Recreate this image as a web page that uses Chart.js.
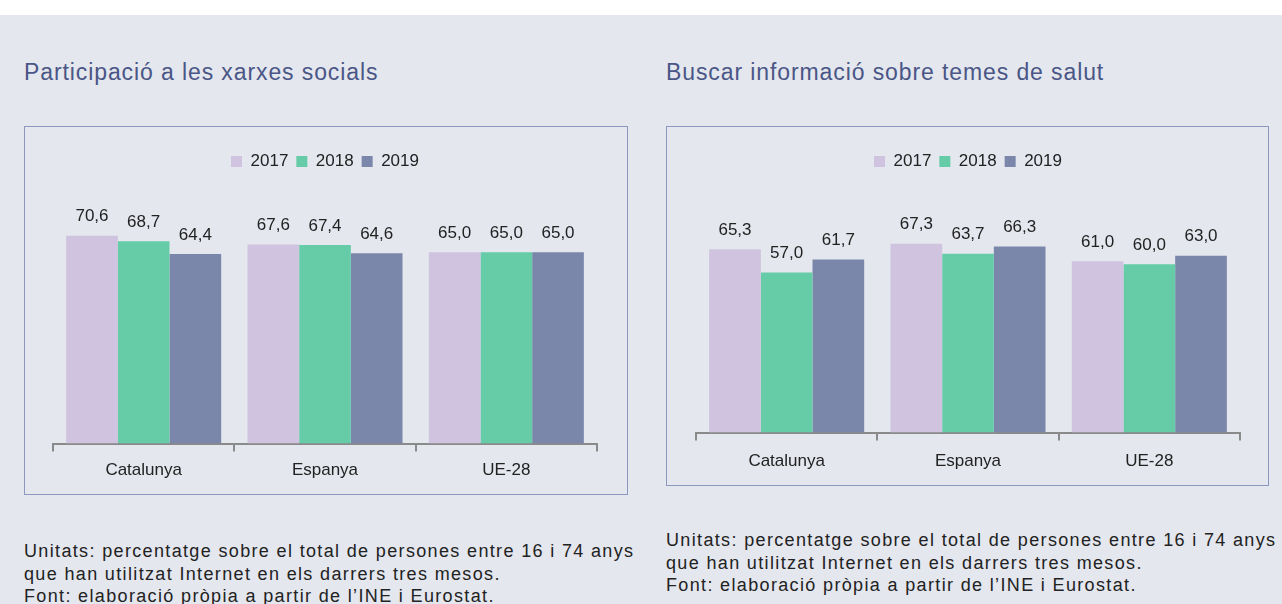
<!DOCTYPE html>
<html>
<head>
<meta charset="utf-8">
<script src="https://cdn.jsdelivr.net/npm/chart.js@4.4.1/dist/chart.umd.min.js"></script>
<style>
  html, body { margin: 0; padding: 0; }
  body { width: 1282px; height: 604px; background: #e4e7ee; position: relative; overflow: hidden; font-family: "Liberation Sans", Arial, sans-serif; }
  .band { position: absolute; left: 0; top: 0; width: 1282px; height: 15px; background: #fff; }
  .title { position: absolute; font-size: 23px; line-height: 26px; letter-spacing: 0.9px; color: #4a5686; white-space: nowrap; }
  .box { position: absolute; border: 1.5px solid #8c98be; box-sizing: border-box; }
  .box canvas { position: absolute; left: 0; top: 0; }
  .note { position: absolute; font-size: 18px; letter-spacing: 1.35px; line-height: 22.5px; color: #222; white-space: nowrap; }
</style>
</head>
<body>
<div class="band"></div>
<div class="title" style="left:24px; top:59px;">Participació a les xarxes socials</div>
<div class="title" style="left:666px; top:59px;">Buscar informació sobre temes de salut</div>

<div class="box" style="left:24px; top:126px; width:604px; height:369px;">
  <div style="position:absolute; left:0; top:0; width:601px; height:366px;"><canvas id="chartXarxes"></canvas></div>
</div>
<div class="box" style="left:666px; top:126px; width:603px; height:360px;">
  <div style="position:absolute; left:0; top:0; width:600px; height:357px;"><canvas id="chartSalut"></canvas></div>
</div>

<div class="note" style="left:24px; top:540px;">Unitats: percentatge sobre el total de persones entre 16 i 74 anys<br>que han utilitzat Internet en els darrers tres mesos.<br>Font: elaboració pròpia a partir de l’INE i Eurostat.</div>
<div class="note" style="left:666px; top:529px;">Unitats: percentatge sobre el total de persones entre 16 i 74 anys<br>que han utilitzat Internet en els darrers tres mesos.<br>Font: elaboració pròpia a partir de l’INE i Eurostat.</div>

<script>
const territoris = ["Catalunya", "Espanya", "UE-28"];
const anys = ["2017", "2018", "2019"];

// Participació a les xarxes socials
const xarxes2017 = [70.6, 67.6, 65.0];
const xarxes2018 = [68.7, 67.4, 65.0];
const xarxes2019 = [64.4, 64.6, 65.0];

// Buscar informació sobre temes de salut
const salut2017 = [65.3, 67.3, 61.0];
const salut2018 = [57.0, 63.7, 60.0];
const salut2019 = [61.7, 66.3, 63.0];

const colors = ["#cfc3df", "#66cca8", "#7a87ab"];
const textFont = "'Liberation Sans', Arial, sans-serif";

// etiquetes de valor sobre cada barra, amb coma decimal
const valueLabels = {
    id: "valueLabels",
    afterDatasetsDraw(chart) {
        const ctx = chart.ctx;
        ctx.save();
        ctx.font = "17px " + textFont;
        ctx.fillStyle = "#222";
        ctx.textAlign = "center";
        ctx.textBaseline = "middle";
        chart.data.datasets.forEach((ds, i) => {
            chart.getDatasetMeta(i).data.forEach((bar, j) => {
                ctx.fillText(ds.data[j].toFixed(1).replace(".", ","), bar.x, bar.y - 19);
            });
        });
        ctx.restore();
    },
};

// espai extra sota la llegenda
const legendGap = {
    id: "legendGap",
    beforeInit(chart) {
        const fit = chart.legend.fit;
        chart.legend.fit = function () {
            fit.bind(chart.legend)();
            this.height += chart.options.legendGap || 0;
        };
    },
};

function makeChart(id, series, pad, gap, tickPad) {
    return new Chart(document.getElementById(id), {
        type: "bar",
        data: {
            labels: territoris,
            datasets: anys.map((a, i) => ({
                label: a,
                data: series[i],
                backgroundColor: colors[i],
                borderWidth: 0,
                barPercentage: 1.0,
                categoryPercentage: 0.855,
            })),
        },
        options: {
            legendGap: gap,
            responsive: true,
            maintainAspectRatio: false,
            animation: false,
            layout: { padding: pad },
            plugins: {
                legend: {
                    position: "top",
                    labels: {
                        boxWidth: 11,
                        boxHeight: 11,
                        padding: 8,
                        color: "#222",
                        font: { size: 17, family: textFont },
                    },
                },
                tooltip: { enabled: false },
            },
            scales: {
                x: {
                    grid: {
                        drawOnChartArea: false,
                        drawTicks: true,
                        tickLength: 8,
                        color: "#8a8a8a",
                        lineWidth: 2,
                    },
                    border: { display: true, color: "#8a8a8a", width: 2 },
                    ticks: {
                        color: "#222",
                        padding: tickPad,
                        font: { size: 17, family: textFont },
                    },
                },
                y: {
                    display: false,
                    min: 0,
                    max: 80,
                },
            },
        },
        plugins: [valueLabels, legendGap],
    });
}

makeChart("chartXarxes", [xarxes2017, xarxes2018, xarxes2019], { top: 18, left: 28, right: 29, bottom: 3 }, 28, 9);
makeChart("chartSalut", [salut2017, salut2018, salut2019], { top: 18, left: 29, right: 27, bottom: 1 }, 28, 11);
</script>
</body>
</html>
